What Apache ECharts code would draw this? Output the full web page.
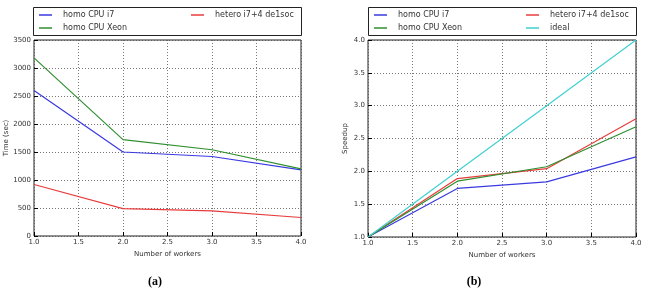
<!DOCTYPE html>
<html>
<head>
<meta charset="utf-8">
<script src="https://cdn.jsdelivr.net/npm/echarts@6/dist/echarts.min.js"></script>
<style>
  html, body { margin: 0; padding: 0; background: #fff; }
  #chart { width: 647px; height: 293px; }
</style>
</head>
<body>
<div id="chart"></div>
<script>
// values
const workers = [1, 2, 3, 4];
const timeI7 = [2600, 1500, 1420, 1180];
const timeXeon = [3180, 1720, 1540, 1200];
const timeHetero = [920, 490, 450, 330];
const speedI7 = [1.0, 1.74, 1.84, 2.22];
const speedXeon = [1.0, 1.85, 2.07, 2.68];
const speedHetero = [1.0, 1.89, 2.04, 2.80];
const speedIdeal = [1.0, 2.0, 3.0, 4.0];

const NAME_I7 = 'homo CPU i7';
const NAME_XEON = 'homo CPU Xeon';
const NAME_HET = 'hetero i7+4 de1soc';
const NAME_IDEAL = 'ideal';

const colors = {
    [NAME_I7]: '#3a3ae0',
    [NAME_XEON]: '#2f8f2f',
    [NAME_HET]: '#e83c3c',
    [NAME_IDEAL]: '#40d0d0'
};

const font = 'DejaVu Sans';
const pair = (xs, ys) => xs.map((x, i) => [x, ys[i]]);

const line = (name, data, idx) => ({
    name, type: 'line', data: pair(workers, data),
    xAxisIndex: idx, yAxisIndex: idx,
    showSymbol: false, symbol: 'none', animation: false,
    lineStyle: { width: 1.2, color: colors[name] },
    itemStyle: { color: colors[name] }
});

const xAxis = (idx) => ({
    type: 'value', gridIndex: idx, min: 1, max: 4, interval: 0.5,
    name: 'Number of workers', nameLocation: 'middle', nameGap: 15,
    nameTextStyle: { fontFamily: font, fontSize: 7, color: '#333' },
    axisLine: { show: false },
    axisTick: { inside: true, length: 4, lineStyle: { color: '#000' } },
    axisLabel: { fontFamily: font, fontSize: 7, color: '#333', margin: 3,
        formatter: v => v.toFixed(1) },
    splitLine: { lineStyle: { type: [1, 2], color: '#555', width: 0.8 } }
});

const legendItem = (name, left, top) => ({
    data: [name], left, top, orient: 'horizontal',
    icon: 'rect', itemWidth: 13, itemHeight: 1.5, itemGap: 0,
    textStyle: { fontFamily: font, fontSize: 8, color: '#333', padding: [0, 0, 0, 6] },
    padding: 0, selectedMode: false
});

const chart = echarts.init(document.getElementById('chart'));
chart.setOption({
    backgroundColor: '#fff',
    animation: false,
    grid: [
        { left: 34, top: 40, width: 267, height: 196, show: true, borderColor: '#222', borderWidth: 1 },
        { left: 368, top: 40, width: 268, height: 197, show: true, borderColor: '#222', borderWidth: 1 }
    ],
    xAxis: [xAxis(0), xAxis(1)],
    yAxis: [
        {
            type: 'value', gridIndex: 0, min: 0, max: 3500, interval: 500,
            name: 'Time (sec)', nameLocation: 'middle', nameGap: 24,
            nameTextStyle: { fontFamily: font, fontSize: 7, color: '#333' },
            axisLine: { show: false },
            axisTick: { inside: true, length: 4, lineStyle: { color: '#000' } },
            axisLabel: { fontFamily: font, fontSize: 7, color: '#333', margin: 3,
                formatter: v => String(v) },
            splitLine: { lineStyle: { type: [1, 2], color: '#555', width: 0.8 } }
        },
        {
            type: 'value', gridIndex: 1, min: 1, max: 4, interval: 0.5,
            name: 'Speedup', nameLocation: 'middle', nameGap: 19,
            nameTextStyle: { fontFamily: font, fontSize: 7, color: '#333' },
            axisLine: { show: false },
            axisTick: { inside: true, length: 4, lineStyle: { color: '#000' } },
            axisLabel: { fontFamily: font, fontSize: 7, color: '#333', margin: 3,
                formatter: v => v.toFixed(1) },
            splitLine: { lineStyle: { type: [1, 2], color: '#555', width: 0.8 } }
        }
    ],
    legend: [
        legendItem(NAME_I7, 39, 11),
        legendItem(NAME_HET, 191, 11),
        legendItem(NAME_XEON, 39, 24),
        legendItem(NAME_I7, 374, 11),
        legendItem(NAME_HET, 526, 11),
        legendItem(NAME_XEON, 374, 24),
        legendItem(NAME_IDEAL, 526, 24)
    ],
    graphic: [
        { type: 'rect', shape: { x: 33.5, y: 7.5, width: 268, height: 28 },
          style: { fill: 'none', stroke: '#222', lineWidth: 1 }, z: -1 },
        { type: 'rect', shape: { x: 368.5, y: 7.5, width: 268, height: 28 },
          style: { fill: 'none', stroke: '#222', lineWidth: 1 }, z: -1 },
        { type: 'text', x: 155, y: 282,
          style: { text: '(a)', font: 'bold 12px "Liberation Serif"', fill: '#000',
                   textAlign: 'center', textVerticalAlign: 'middle' } },
        { type: 'text', x: 474, y: 282,
          style: { text: '(b)', font: 'bold 12px "Liberation Serif"', fill: '#000',
                   textAlign: 'center', textVerticalAlign: 'middle' } }
    ],
    series: [
        line(NAME_I7, timeI7, 0),
        line(NAME_XEON, timeXeon, 0),
        line(NAME_HET, timeHetero, 0),
        line(NAME_I7, speedI7, 1),
        line(NAME_HET, speedHetero, 1),
        line(NAME_XEON, speedXeon, 1),
        line(NAME_IDEAL, speedIdeal, 1)
    ]
});
</script>
</body>
</html>
